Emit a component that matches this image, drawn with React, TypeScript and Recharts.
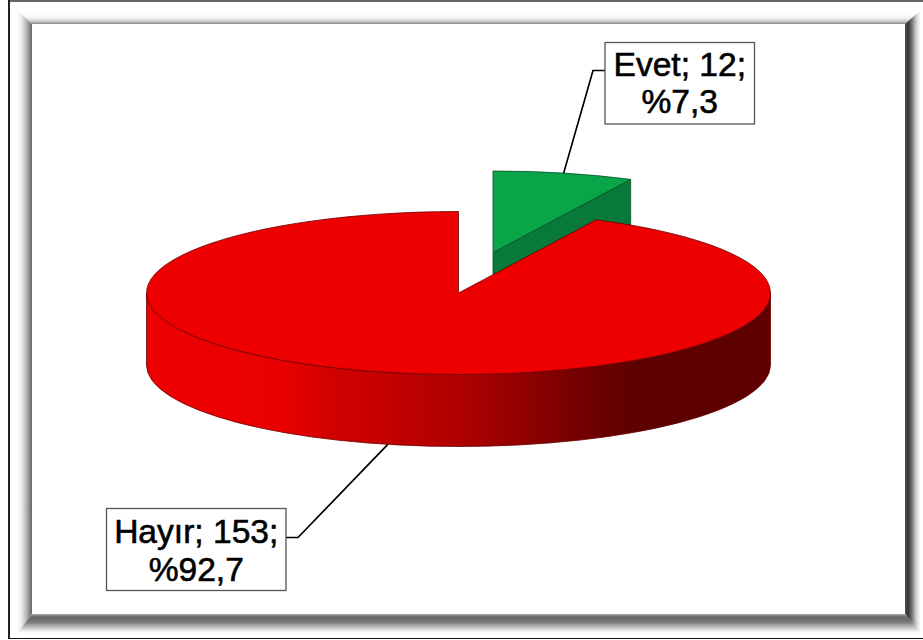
import React from 'react';
import { PieChart, Pie, Cell } from 'recharts';

const categories = ['Evet', 'Hayır'];
const counts = [12, 153];
const sliceColors = ['#09a548', '#ee0000'];
const wallColors = ['#077a3a', 'url(#redWall)'];
const edgeColors = ['#05502a', '#6a0000'];

const chartData = categories.map((name, i) => ({ name, value: counts[i] }));
const total = counts.reduce((a, b) => a + b, 0);

// pie drawn flat-tilted: the radius is squashed on y and extruded downward
const CX = 458.5;
const CY = 293;
const RX = 312;
const RY = 81.5;
const DEPTH = 72;
const EXPLODE = [{ dx: 34.5, dy: -40.5 }, { dx: 0, dy: 0 }];

const labelBoxes = [
  { x: 605, y: 42.5, w: 149.5, h: 81.5, elbowX: 593, elbowY: 70.5, sideX: 605, base1: 76, base2: 113 },
  { x: 106.5, y: 508.5, w: 179.5, h: 82, elbowX: 298, elbowY: 537.5, sideX: 286, base1: 543, base2: 581 },
];

const rad = (a: number) => (a * Math.PI) / 180;
const px = (cx: number, r: number, a: number) => cx + r * Math.cos(rad(a));
const py = (cy: number, r: number, a: number) => cy - r * Math.sin(rad(a));

const Slice3D = (props: any) => {
  const { cx, cy, outerRadius, startAngle, endAngle, index } = props;
  const ry = (outerRadius * RY) / RX;
  const { dx, dy } = EXPLODE[index];
  const ox = cx + dx;
  const oy = cy + dy;
  const x1 = px(ox, outerRadius, startAngle);
  const y1 = py(oy, ry, startAngle);
  const x2 = px(ox, outerRadius, endAngle);
  const y2 = py(oy, ry, endAngle);
  const large = Math.abs(endAngle - startAngle) > 180 ? 1 : 0;
  const top = `M${ox},${oy} L${x1},${y1} A${outerRadius},${ry} 0 ${large} 1 ${x2},${y2} Z`;

  let wall;
  if (large) {
    // outer rim, front half only
    const lx = ox - outerRadius;
    const rx = ox + outerRadius;
    wall = `M${rx},${oy} A${outerRadius},${ry} 0 0 1 ${lx},${oy} L${lx},${oy + DEPTH} A${outerRadius},${ry} 0 0 0 ${rx},${oy + DEPTH} Z`;
  } else {
    // cut face of the pulled out slice, the rest is hidden behind the big one
    wall = `M${ox},${oy} L${x2},${y2} L${x2},${y2 + DEPTH} L${ox},${oy + DEPTH} Z`;
  }

  return (
    <g>
      <path d={wall} fill={wallColors[index]} stroke={edgeColors[index]} strokeWidth={0.8} />
      <path d={top} fill={sliceColors[index]} stroke={edgeColors[index]} strokeWidth={0.8} />
    </g>
  );
};

const renderLabel = (props: any) => {
  const { cx, cy, outerRadius, midAngle, index } = props;
  const ry = (outerRadius * RY) / RX;
  const box = labelBoxes[index];
  const { dx, dy } = EXPLODE[index];
  const sx = px(cx + dx, outerRadius, midAngle);
  const sinBelow = Math.sin(rad(midAngle)) < 0;
  const sy = py(cy + dy, ry, midAngle) + (sinBelow ? DEPTH : 0);
  const pct = ((counts[index] / total) * 100).toFixed(1).replace('.', ',');
  const mid = box.x + box.w / 2;
  const textStyle = {
    fontFamily: '"Liberation Sans", Arial, sans-serif',
    fontSize: 33.6,
    fill: '#000',
    stroke: '#000',
    strokeWidth: 0.6,
  };
  return (
    <g>
      <polyline
        points={`${sx},${sy} ${box.elbowX},${box.elbowY} ${box.sideX},${box.elbowY}`}
        fill="none"
        stroke="#000"
        strokeWidth={1.7}
      />
      <rect x={box.x} y={box.y} width={box.w} height={box.h} fill="#fff" stroke="#555" strokeWidth={1.3} />
      <text x={mid} y={box.base1} textAnchor="middle" style={textStyle}>
        {`${categories[index]}; ${counts[index]};`}
      </text>
      <text x={mid} y={box.base2} textAnchor="middle" style={textStyle}>
        {`%${pct}`}
      </text>
    </g>
  );
};

const bevel = (clipPath: string, background: string): React.CSSProperties => ({
  position: 'absolute',
  left: 0,
  top: 0,
  width: 923,
  height: 640,
  clipPath,
  background,
});

export default function App() {
  return (
    <div style={{ position: 'absolute', left: 0, top: 0, width: 923, height: 640, background: '#fff', overflow: 'hidden' }}>
      {/* outer hairlines */}
      <div style={{ position: 'absolute', left: 8, top: 0, width: 915, height: 2, background: '#666' }} />
      <div style={{ position: 'absolute', left: 8, top: 0, width: 1.5, height: 639, background: '#222' }} />
      <div style={{ position: 'absolute', left: 8, top: 637.5, width: 915, height: 1.5, background: '#111' }} />

      {/* picture frame bevel */}
      <div style={bevel('polygon(17px 10px, 921px 10px, 905px 24px, 32px 24px)', 'linear-gradient(to bottom, #fff 10px, #fff 14px, #f2f2f2 18px, #cfcfcf 21px, #8a8a8a 24px)')} />
      <div style={bevel('polygon(17px 10px, 32px 24px, 32px 614px, 17px 634px)', 'linear-gradient(to right, #fff 17px, #eee 21px, #bbb 26px, #666 32px)')} />
      <div style={bevel('polygon(905px 24px, 921px 10px, 921px 634px, 905px 614px)', 'linear-gradient(to right, #555 905px, #333 908px, #777 912px, #ccc 916px, #eee 919px, #fff 921px)')} />
      <div style={bevel('polygon(32px 614px, 905px 614px, 921px 634px, 17px 634px)', 'linear-gradient(to bottom, #aaa 614px, #666 617px, #777 622px, #bbb 627px, #eee 631px, #fff 634px)')} />

      <div style={{ position: 'absolute', left: 0, top: 0 }}>
        <PieChart width={923} height={640} margin={{ top: 0, right: 0, bottom: 0, left: 0 }}>
          <defs>
            <linearGradient id="redWall" gradientUnits="userSpaceOnUse" x1={147} y1={0} x2={770} y2={0}>
              <stop offset="0" stopColor="#ee0000" />
              <stop offset="0.22" stopColor="#e80000" />
              <stop offset="0.29" stopColor="#d40000" />
              <stop offset="0.5" stopColor="#b00000" />
              <stop offset="0.62" stopColor="#8c0000" />
              <stop offset="0.72" stopColor="#6c0000" />
              <stop offset="0.8" stopColor="#5c0000" />
              <stop offset="1" stopColor="#600000" />
            </linearGradient>
          </defs>
          <Pie
            data={chartData}
            dataKey="value"
            nameKey="name"
            cx={CX}
            cy={CY}
            outerRadius={RX}
            startAngle={90}
            endAngle={-270}
            paddingAngle={0}
            stroke="none"
            isAnimationActive={false}
            labelLine={false}
            label={renderLabel}
            shape={Slice3D}
          >
            {chartData.map((d, i) => (
              <Cell key={d.name} fill={sliceColors[i]} />
            ))}
          </Pie>
        </PieChart>
      </div>
    </div>
  );
}
